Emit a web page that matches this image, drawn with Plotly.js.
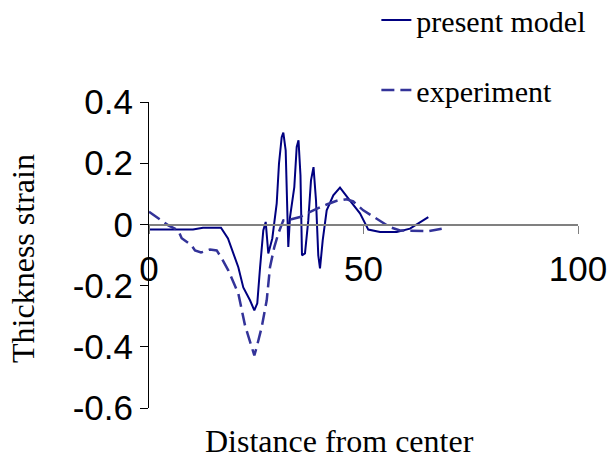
<!DOCTYPE html>
<html>
<head>
<meta charset="utf-8">
<script src="https://cdn.plot.ly/plotly-3.0.1.min.js"></script>
<style>html,body{margin:0;padding:0;background:#fff;}#chart{width:615px;height:459px;}</style>
</head>
<body>
<div id="chart"></div>
<script>
// Present model (solid)
var modelX = [0, 10.26, 12.59, 16.78, 18.41, 19.65, 20.82, 21.98, 23.54, 24.55, 25.24, 25.87, 26.64, 27.2, 27.81, 28.74, 29.77, 30.3, 30.93, 31.31, 31.86, 32.47, 32.87, 33.87, 34.43, 34.85, 35.31, 35.66, 36.36, 37.13, 37.76, 38.35, 38.93, 39.46, 39.86, 40.49, 41.42, 42.96, 44.52, 46.85, 49.18, 51.12, 53.85, 57.74, 60.84, 65.11];
var modelY = [-0.017, -0.017, -0.011, -0.011, -0.046, -0.095, -0.14, -0.206, -0.248, -0.281, -0.258, -0.144, -0.02, 0.008, -0.095, -0.046, 0.069, 0.199, 0.285, 0.3, 0.242, -0.074, 0.024, 0.122, 0.253, 0.275, 0.16, -0.101, -0.095, 0.013, 0.144, 0.187, 0.078, -0.101, -0.144, -0.052, 0.046, 0.095, 0.12, 0.078, 0.036, -0.017, -0.025, -0.025, -0.014, 0.024];
// Experiment (dashed)
var expX = [0, 2.17, 4.5, 6.83, 7.62, 9.95, 10.72, 12.12, 14.22, 15.78, 16.95, 18.48, 20.82, 22.38, 23.54, 24.55, 25.1, 26.27, 27.44, 28.2, 29.21, 30.14, 31.31, 32.87, 35.2, 38.3, 41.42, 43.75, 46.08, 47.62, 49.95, 53.08, 56.18, 58.51, 61.61, 65.11, 68.23];
var expY = [0.041, 0.019, -0.003, -0.02, -0.045, -0.069, -0.085, -0.092, -0.082, -0.085, -0.111, -0.15, -0.226, -0.33, -0.379, -0.428, -0.401, -0.336, -0.248, -0.14, -0.074, -0.03, 0.013, 0.016, 0.024, 0.046, 0.065, 0.077, 0.082, 0.075, 0.046, 0.019, -0.009, -0.02, -0.022, -0.022, -0.014];
var xTicks = [0, 50, 100];
var yTicks = [-0.6, -0.4, -0.2, 0, 0.2, 0.4];
var yTickText = ['-0.6', '-0.4', '-0.2', '0', '0.2', '0.4'];

var traces = [
  {x: modelX, y: modelY, type: 'scatter', mode: 'lines', name: 'present model', legendgroup: 'a',
   line: {color: '#000080', width: 2}},
  {x: expX, y: expY, type: 'scatter', mode: 'lines', name: 'experiment', legendgroup: 'b',
   line: {color: '#333399', width: 2.5, dash: '13px,6px'}}
];

var layout = {
  width: 615, height: 459,
  margin: {l: 149, r: 37, t: 102, b: 51, pad: 0, autoexpand: false},
  paper_bgcolor: '#ffffff', plot_bgcolor: 'rgba(0,0,0,0)',
  showlegend: true,
  legend: {x: 0.53, y: 1.353, xanchor: 'left', yanchor: 'top', traceorder: 'grouped', tracegroupgap: 28,
    bgcolor: 'rgba(0,0,0,0)', font: {family: 'Liberation Serif, Times New Roman, serif', size: 30, color: '#000'}},
  xaxis: {range: [0, 100], tickvals: xTicks, anchor: 'free', position: 0.6,
    showline: true, linecolor: '#808080', linewidth: 1.5, ticks: 'outside', ticklen: 8, tickcolor: '#808080',
    showgrid: false, zeroline: false, ticklabelstandoff: 5,
    tickfont: {family: 'Liberation Sans, Arial, sans-serif', size: 35, color: '#000'}},
  yaxis: {range: [-0.6, 0.4], tickvals: yTicks, ticktext: yTickText,
    showline: true, linecolor: '#000', linewidth: 1, ticks: 'outside', ticklen: 8, tickcolor: '#000',
    showgrid: false, zeroline: false,
    tickfont: {family: 'Liberation Sans, Arial, sans-serif', size: 35, color: '#000'}},
  annotations: [
    {text: 'Distance from center', xref: 'paper', yref: 'paper', x: 0.445, y: -0.108, xanchor: 'center', yanchor: 'middle',
     showarrow: false, font: {family: 'Liberation Serif, Times New Roman, serif', size: 32, color: '#000'}},
    {text: 'Thickness strain', xref: 'paper', yref: 'paper', x: -0.294, y: 0.49, xanchor: 'center', yanchor: 'middle',
     textangle: -90, showarrow: false, font: {family: 'Liberation Serif, Times New Roman, serif', size: 32, color: '#000'}}
  ]
};

Plotly.newPlot('chart', traces, layout, {displayModeBar: false, staticPlot: true});
</script>
</body>
</html>
